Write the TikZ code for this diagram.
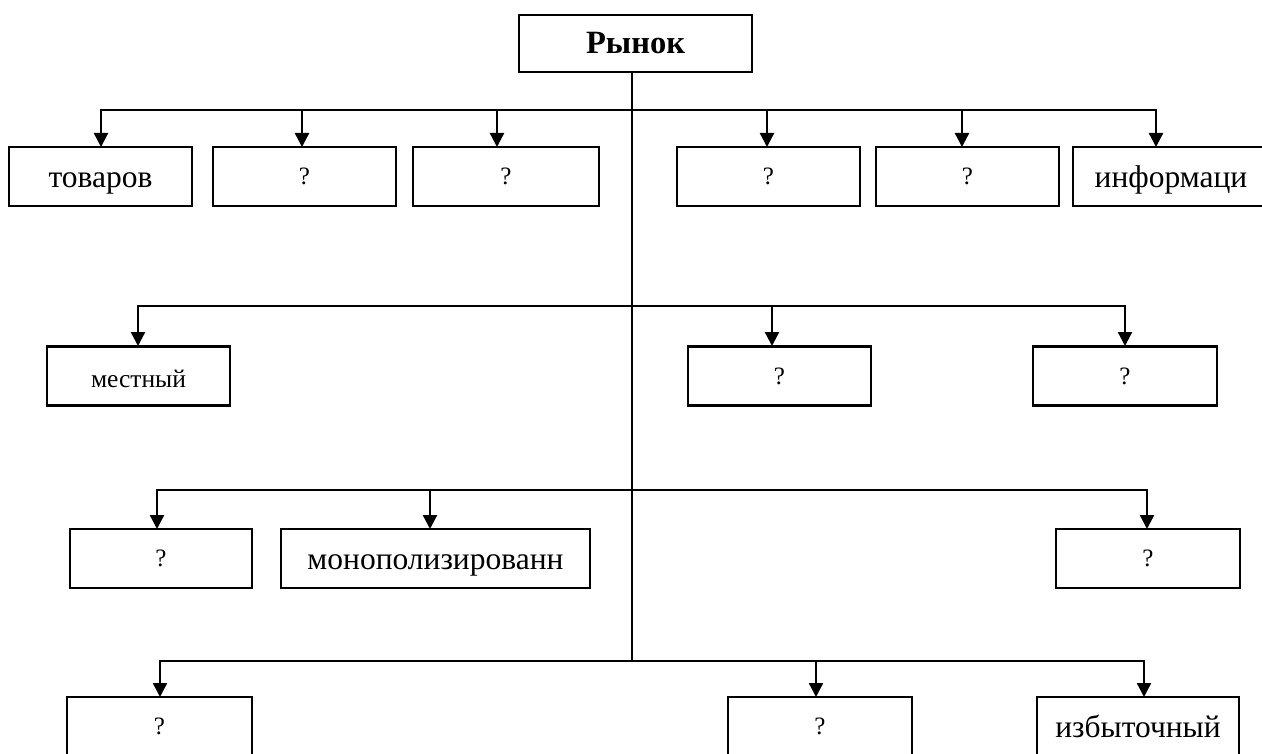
\documentclass[tikz,border=0pt]{standalone}
\usepackage{fontspec}
\setmainfont{Liberation Serif}
\usetikzlibrary{arrows.meta}
\tikzset{
  ln/.style={line width=2.4pt, line cap=rect},
  arr/.style={line width=2.4pt, -{Triangle[width=14pt,length=14pt]}},
  bx/.style={draw, line width=2.4pt, rectangle, inner sep=0pt, minimum height=59pt},
  big/.style={font=\fontsize{31.5}{36}\selectfont, text height=22pt, text depth=0pt},
  mid/.style={font=\fontsize{25.5}{30}\selectfont, text height=22pt, text depth=0pt},
  q/.style={font=\fontsize{25}{29}\selectfont},
}
\begin{document}
\begin{tikzpicture}[x=1pt,y=-1pt]
\useasboundingbox (0,0) rectangle (1262,754);
% root
\node[bx, minimum width=233pt, minimum height=57pt, font=\fontsize{32.5}{37}\selectfont\bfseries] (root) at (635.5,43.5) {Рынок};
% row 1
\node[bx, big, minimum width=183pt] (r1a) at (100.5,176.5) {товаров};
\node[bx, q, minimum width=183pt] (r1b) at (304.5,176.5) {?};
\node[bx, q, minimum width=186pt] (r1c) at (506,176.5) {?};
\node[bx, q, minimum width=183pt] (r1d) at (768.5,176.5) {?};
\node[bx, q, minimum width=183pt] (r1e) at (967.5,176.5) {?};
\node[bx, big, minimum width=196pt] (r1f) at (1171,176.5) {информаци};
% row 2
\node[bx, mid, minimum width=183pt] (r2a) at (138.5,376) {местный};
\node[bx, q, minimum width=183pt] (r2b) at (779.5,376) {?};
\node[bx, q, minimum width=184pt] (r2c) at (1125,376) {?};
% row 3
\node[bx, q, minimum width=182pt] (r3a) at (161,558.5) {?};
\node[bx, big, minimum width=309pt] (r3b) at (435.5,558.5) {монополизированн};
\node[bx, q, minimum width=184pt] (r3c) at (1148,558.5) {?};
% row 4
\node[bx, q, minimum width=185pt] (r4a) at (159.5,726.5) {?};
\node[bx, q, minimum width=184pt] (r4b) at (820,726.5) {?};
\node[bx, big, minimum width=202pt] (r4c) at (1138,726.5) {избыточный};
% bars
\coordinate (b1) at (632,110);
\coordinate (b2) at (632,306);
\coordinate (b3) at (632,490);
\coordinate (b4) at (632,661);
% arrow targets
\coordinate (t1a) at (101,147);
\coordinate (t1b) at (302,147);
\coordinate (t1c) at (497,147);
\coordinate (t1d) at (767,147);
\coordinate (t1e) at (962,147);
\coordinate (t1f) at (1156,147);
\coordinate (t2a) at (138,346);
\coordinate (t2b) at (772,346);
\coordinate (t2c) at (1125,346);
\coordinate (t3a) at (157,529);
\coordinate (t3b) at (430,529);
\coordinate (t3c) at (1147,529);
\coordinate (t4a) at (160,697);
\coordinate (t4b) at (816,697);
\coordinate (t4c) at (1144,697);
% trunk
\draw[ln] (root.south -| b1) -- (b4);
% horizontal bars
\draw[ln] (t1a |- b1) -- (t1f |- b1);
\draw[ln] (t2a |- b2) -- (t2c |- b2);
\draw[ln] (t3a |- b3) -- (t3c |- b3);
\draw[ln] (t4a |- b4) -- (t4c |- b4);
% arrows
\foreach \t/\b in {t1a/b1,t1b/b1,t1c/b1,t1d/b1,t1e/b1,t1f/b1,t2a/b2,t2b/b2,t2c/b2,t3a/b3,t3b/b3,t3c/b3,t4a/b4,t4b/b4,t4c/b4}
  \draw[arr] (\t |- \b) -- (\t);
\end{tikzpicture}
\end{document}
